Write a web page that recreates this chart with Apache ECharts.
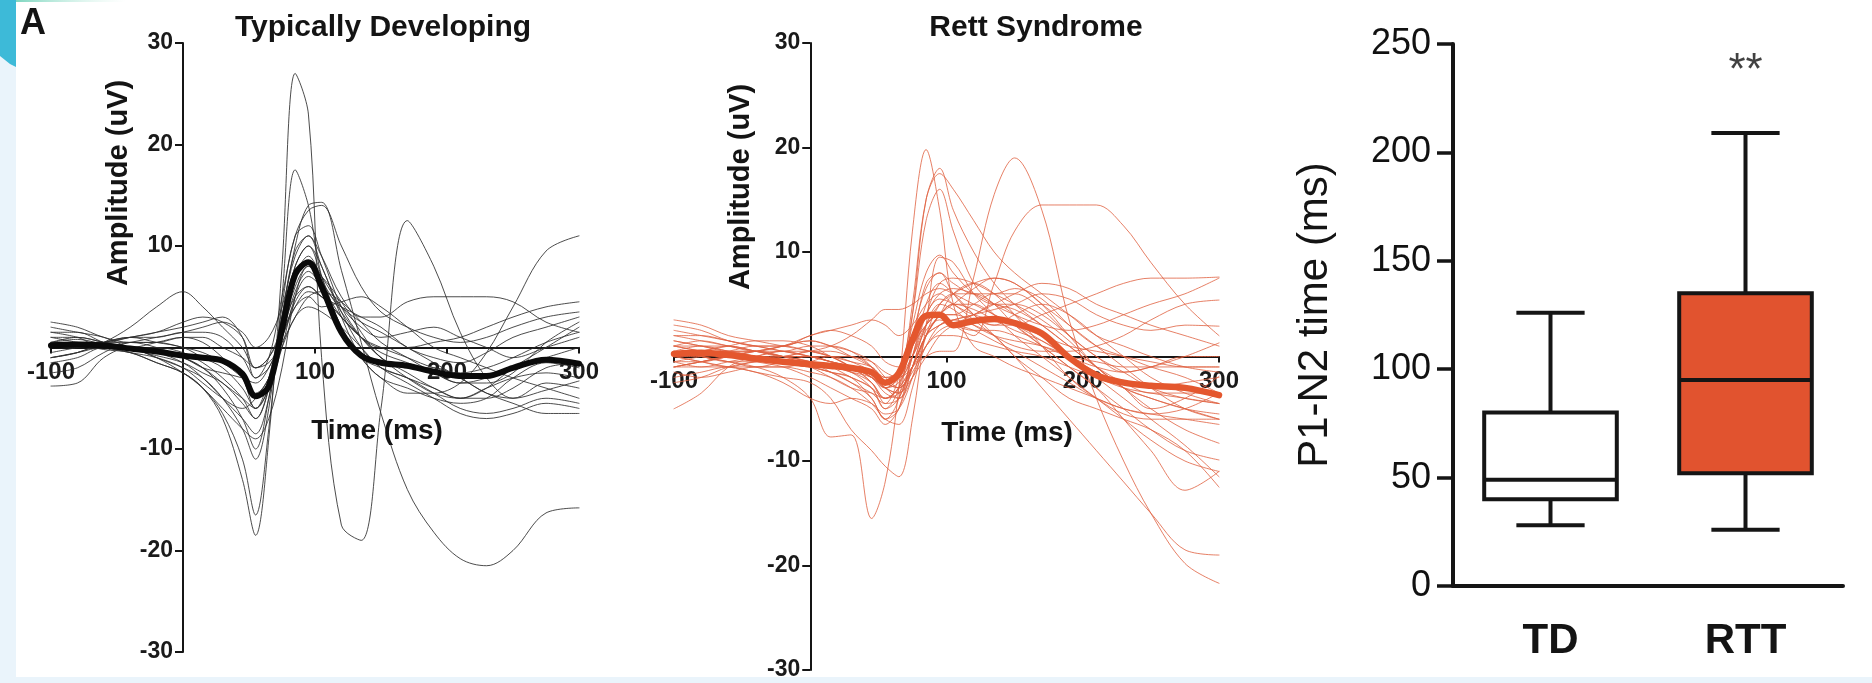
<!DOCTYPE html>
<html><head><meta charset="utf-8">
<script src="https://cdn.jsdelivr.net/npm/echarts@6/dist/echarts.min.js"></script>
<style>html,body{margin:0;padding:0;background:#eaf4fb;overflow:hidden}#c{width:1872px;height:683px}</style>
</head><body><div id="c"></div>
<script>
// ---------- DATA ----------
const times = [-100,-80,-60,-40,-20,0,15,30,45,55,65,75,85,95,105,120,135,150,170,190,210,230,250,275,300];

const tdMean = [0.2,0.3,0.2,-0.1,-0.4,-0.8,-1.0,-1.3,-2.6,-4.8,-3.8,1.8,7.2,8.4,6.0,1.5,-0.8,-1.5,-1.8,-2.4,-2.8,-2.8,-2.0,-1.2,-1.6];
const td01 = [0.5,0.3,-0.2,-0.5,-1.5,-2.5,-4,-7,-13,-18.5,-9,8,27,23,-1,-17.5,-19,-6,12.5,8,1.5,-3,-5,-4.2,-3.3];
const td02 = [-1,-0.5,0,-0.5,-1.5,-2.5,-4,-6.5,-11,-16.5,-8,5,17.5,14,7,2,-1,-2,-3,-4,-5,-4,-3,-2.5,-3];
const td03 = [0.5,0.8,0.3,-0.2,-0.8,-1.5,-2.5,-3.5,-5.5,-7,-4,3,10,14,14.3,7.6,0.5,-6.5,-14,-18.2,-20.8,-21.5,-20,-16.3,-15.8];
const td04 = [-1,-0.5,0.5,1,0.5,0,-1,-2,-4,-6,-3,3,8,10,8,3,-1,-3,-4.5,-4.5,-3.5,-0.5,4,9.5,11];
const td05 = [-1,-0.5,0.5,2,4,5.5,4,2,0,-2,-1,2,5,6,5,3,1,0,-1,-2,-2.5,-2,-1,0.5,1.5];
const td06 = [0.5,0.5,0,0.5,1,1.5,2,2.5,1.5,0,1,4,9,11,9,5,3,3,4.5,5,5,5,4.5,2.5,1.5];
const td07 = [1.5,1.5,0.5,0,-1,-2,-3,-5,-8,-11,-6,4,11,12,9,4,1,-1,-2.5,-4,-5,-5,-4,-2,-1.5];
const td08 = [2,1.5,1,0,-0.5,-1,-2,-4,-7,-10,-5,3,9.5,11,8,3.5,0,-2,-3,-4.5,-6,-6.5,-6,-5,-5.5];
const td09 = [-3.8,-3.5,-1,0,-0.5,-1.5,-3,-5,-7,-8.5,-5,2,8,10,7,2,-1,-3,-4,-5,-5.5,-5,-3,-1.5,-2];
const td10 = [1,1,0.5,0,0,-0.5,-1.5,-3,-5,-7,-4,2,7,9,7,4,2,1,1.5,2,1,0,-1,0,1];
const td11 = [2.5,2,1,0.5,0.5,1,0.5,-1,-3,-6,-4,1,5.5,7.5,6,3,1,0,0,0.5,1,2,3,4,4.5];
const td12 = [-0.5,0,0.5,1,1.5,2,2.5,3,1,-3,-2,1,4.5,6,5,4,3,2,0,-1,-1.5,-0.5,1,2,3];
const td13 = [0,0.5,0.5,1,1.5,2.5,3,2.5,1,-2,-1.5,0.5,3,5,5.5,4.5,2.5,0.5,-1,-2.5,-3.5,-3,-2,-1,0];
const td14 = [1,0.5,0,-0.5,-1,-2,-3.5,-5,-6,-5,-3,0,3,4,3.5,2,0,-2,-3.5,-5,-6.5,-7,-6.5,-5.5,-6];
const td15 = [-1.5,-1,0,0,-0.5,-1,-2,-2.5,-3,-3.5,-2,1,4,5.5,5,3,1,-1,-3,-4.5,-5,-4,-2,0,2];
const td16 = [0.5,1,0.5,0,-1,-2.5,-4,-6,-8,-9,-7,-2,5,8,7,4.5,1.5,-1,-2,-2,-3,-4.5,-5,-3.5,-4];
const td17 = [1.5,1,0,0,0.5,1,1,0,-1,-2,-1,1.5,4,5,4,4.5,5,4,2,0,-1,-2,-3,-4,-5];
const td18 = [0,0,0.5,1,1,1.5,1.5,1,-1,-3,-1,5,11,13.5,14,10,6,3.5,2,1,0.5,1,2,3,3.5];
const td19 = [-2.5,-2,-0.5,0.5,0,-1,-2,-3.5,-5,-6,-4,0,5,7,6,4,2.5,1.5,0,-1.5,-3,-4.5,-5.5,-6.5,-6.5];
const td20 = [0.5,0.5,0.5,0.5,0.5,0,-0.5,-1.5,-3,-4.5,-3,1.5,6,8,6.5,3.5,1,-0.5,-1.5,-2.5,-3.5,-3.5,-2.5,0.5,2.5];
const tdTraces = [td01,td02,td03,td04,td05,td06,td07,td08,td09,td10,td11,td12,td13,td14,td15,td16,td17,td18,td19,td20];

const rttMean = [0.25,0.35,0.15,-0.2,-0.5,-0.75,-0.9,-1.1,-1.5,-2.5,-1.6,1.6,3.9,4.0,3.0,3.4,3.6,3.2,2.2,-0.1,-1.8,-2.5,-2.8,-3.0,-3.7];
const rtt01 = [0.5,0,-0.5,-1,-2,-4,-7.7,-7.5,-15.5,-12,-3,12,19.8,14,5,1,0,-1,-2,-3,-4,-5,-5.5,-6,-6.5];
const rtt02 = [1,0.5,0,0,-0.5,-1,-1.5,-2,-4,-6,-4,4,15,18,14,10,7,5,3,1,-1,-3,-4,-5,-5.5];
const rtt03 = [-1,-0.5,0,0.5,0,-0.5,-1,-2,-3,-5,-3,5,15,17.5,16,13,10,8,6,4,2,1,0,-1,-1.5];
const rtt04 = [0,0.5,1,0.5,0,0,-0.5,-1,-2.5,-4.5,-2,4,13,16,12,7,5,4,3,2.5,3,4,5,6,7.5];
const rtt05 = [2,1.5,1,0.5,0,-0.5,-1,-1.5,-2.5,-4,-3,-1,0,0.5,0.5,7.6,15.5,19,14,3.5,-4,-10,-15,-19.8,-21.7];
const rtt06 = [-1,-1,-0.5,0,0.5,0.5,0,-1,-2,-3,-2,1,3,4,3,2,7,12,14.5,14.5,14.5,12.5,9,5,2];
const rtt07 = [0,0.5,0.5,0,-0.5,-1,-1,-1.5,-3,-5,-4,0,5,7,6,4,2,0,-3,-6,-9,-12,-15,-18.5,-19];
const rtt08 = [-2,-1.5,-1,-1.5,-2,-2.5,-4,-7,-9,-10.5,-11.5,-6,3,9.5,9,6,4,2,0,-2,-4,-6,-8,-10,-11];
const rtt09 = [1,1.5,1,0.5,0.5,1,1,0.5,-1,-3,-2,3,8,9.7,8,6,5,5,4,2,0,-1.5,-3,-4,-4.5];
const rtt10 = [3.5,3,2,1.5,1,0.5,0,-1,-2.5,-4,-3,2,6.5,8,7,6,6,6.5,5.5,3,1,0,-1,-2,-3.5];
const rtt11 = [-5,-3.5,-1,0,0.5,0,-0.5,-1,-2,-3,-4,-1,3,5,6,7,7.5,7,5,2,-1,-3,-5,-7,-8.3];
const rtt12 = [2,2,1.5,1,1,2,2.5,3,3.5,3,2,3,5,6,5,4,3.5,3,1.5,0,-1,-1.5,-1,0,0];
const rtt13 = [0.5,0,-0.5,-0.5,0,0.5,1,2,3.5,4.5,4.5,5,6,6.5,6,5,4,3,2,1,0.5,0,-0.5,-1,-1];
const rtt14 = [-0.5,-1,-1,-0.5,-0.5,-1,-1.5,-2.5,-4,-6,-5,1,7,8,6,4,3,4,5,4,2,0,-2,-3.5,-4.5];
const rtt15 = [1.5,1,0.5,0.5,1,1.5,1,0.5,-0.5,-2,-3,-1,2,4,5,6.5,7.5,7,5,3,1,-1,-3,-5,-6];
const rtt16 = [-1.5,-2,-1.5,-1,-1,-1.5,-2,-3,-4.5,-6,-6.5,-3,2,5,6,6,5,3,1,-1,-3,-5,-7,-9,-9.9];
const rtt17 = [0,-0.5,-1,-1,-0.5,0,0,-0.5,-1.5,-3,-3.5,-1,2,3,3.5,4,4.5,5,6,5.5,4,3,2.5,3,2.9];
const rtt18 = [1,0.5,0,-0.5,-1,-2,-3,-4,-5,-6.5,-5,-1,3,5,4.5,3,2,1.5,1,0,-2,-4,-6,-8.5,-11.5];
const rtt19 = [-1,-0.5,0,0.5,1,1.5,1,0,-1,-2,-1.5,1,3,4,4,5,6,6,4.5,2,0,-1.5,-1,0,1.3];
const rtt20 = [2.5,2,1.5,1,0.5,0,-0.5,-1,-2,-3.5,-4,-2,1,3,3.5,3,2,0,-2,-4,-5,-6,-7,-9,-12.5];
const rtt21 = [0,0.5,1,1.5,1.5,1,0,-1,-2,-3,-2.5,0,4,7,7.5,7,6,5,3.5,1.5,-1,-3,-5,-4,-1.9];
const rtt22 = [-2.5,-2,-1,-0.5,0,0,-0.5,-1,-1.5,-2.5,-3,-1.5,1,2,2,1.5,1,0.5,0,-1,-2,-3,-3.5,-4,-4.5];
const rtt23 = [1,1,0.5,0,-0.5,-1,-1,-1.5,-2,-3,-3.5,-2,0,2,3,4,5,6,7,6.5,5,4,3,2,1];
const rtt24 = [0.5,1,1,0.5,0,-0.5,-1.5,-2.5,-3.5,-4.5,-4,0,4,5.5,5,3.5,2,1,0.5,0.5,1,2,3.5,5,5.4];
const rtt25 = [-0.5,0,0.5,0.5,0,-1,-2,-3,-3.5,-4,-3,-1,2,4,6,7,6,4,1,-2,-4,-5.5,-6,-6,-6];
const rtt26 = [0,0,0.5,1,1,0.5,0,-0.5,-1,-2,-2,0,3,4,4,3.5,3,3,4,5,6,7,7.5,7.5,7.6];
const rtt27 = [1.5,1,0.5,0,0,0.5,0.5,0,-0.5,-1.5,-2,-1,1,2.5,3,2.5,1.5,0.5,-1,-2.5,-4,-5,-5.5,-5,-3.5];
const rtt28 = [-1,-0.5,0,0,-0.5,-1,-1.5,-2,-3,-4,-3.5,-1,2,4,5,5,4,3,1,-1,-3,-6,-9,-12.8,-11];
const rtt29 = [3,2.5,1.5,1,0.5,0,-0.5,-1,-1.5,-2.5,-2,0,2.5,3.5,3,2.5,2.5,2,1,0,-0.5,-1,-1,-1,-1];
const rtt30 = [0,-0.5,-1,-1.5,-2.5,-4,-4.5,-4,-4.5,-5.5,-5,-2,2,4,5,4.5,3.5,2.5,1.5,0,-1.5,-3,-4,-5,-6];
const rtt31 = [-0.5,-0.5,0,0.5,1,2,2.5,2,1,-0.5,-1,1,4,6,6.5,6,5,4.5,3,1,-1,-2.5,-3.5,-3.5,-3.5];
const rtt32 = [0.5,0,-0.5,-1,-1,-0.5,0,0,-1,-2.5,-3,-1,2,3,3.5,4,5,4,2,0,-1.5,-2.5,-3,-2.5,-2];
const rttTraces = [rtt01,rtt02,rtt03,rtt04,rtt05,rtt06,rtt07,rtt08,rtt09,rtt10,rtt11,rtt12,rtt13,rtt14,rtt15,rtt16,rtt17,rtt18,rtt19,rtt20,rtt21,rtt22,rtt23,rtt24,rtt25,rtt26,rtt27,rtt28,rtt29,rtt30,rtt31,rtt32];

// box plot: [min, Q1, median, Q3, max]
const groups = ['TD', 'RTT'];
const boxTD  = [28, 40, 49, 80, 126];
const boxRTT = [26, 52, 95, 135, 209];
const sigLabel = '**';
const sigLevel = 237;

// ERP axis ranges
const timeRange = [-100, 300];
const ampRange = [-30, 30];

// ---------- STYLE / LAYOUT ----------
const FONT = "'Liberation Sans', Arial, Helvetica, sans-serif";
const INK = '#151515';
const erpGrids = [
  { left: 51, top: 43, width: 528, height: 609 },
  { left: 674, top: 43, width: 545, height: 627 }
];

function traceSeries(arr, gi, color, width, z) {
  return {
    type: 'line', xAxisIndex: gi, yAxisIndex: gi,
    data: times.map((t, i) => [t, arr[i]]),
    symbol: 'none', showSymbol: false, smooth: 0.35, silent: true, z: z,
    lineStyle: { color: color, width: width, cap: 'round', join: 'round' },
    itemStyle: { color: color }, emphasis: { disabled: true }
  };
}
// place the axes through the origin (0 ms, 0 uV) using axis offsets
function erpX(gi) {
  const g = erpGrids[gi];
  const off = -g.height * (0 - ampRange[0]) / (ampRange[1] - ampRange[0]);
  return {
    type: 'value', gridIndex: gi, min: timeRange[0], max: timeRange[1], interval: 100,
    position: 'bottom', offset: off,
    axisLine: { show: true, onZero: false, lineStyle: { color: INK, width: 2 } },
    axisTick: { show: true, length: 6, lineStyle: { color: INK, width: 2 } },
    axisLabel: { margin: 13, fontSize: 24, fontWeight: 'bold', color: '#1a1a1a', fontFamily: FONT,
      showMinLabel: true, showMaxLabel: true, formatter: v => (v === 0 ? '' : String(v)) },
    splitLine: { show: false }
  };
}
function erpY(gi) {
  const g = erpGrids[gi];
  const off = -g.width * (0 - timeRange[0]) / (timeRange[1] - timeRange[0]);
  return {
    type: 'value', gridIndex: gi, min: ampRange[0], max: ampRange[1], interval: 10,
    position: 'left', offset: off,
    axisLine: { show: true, onZero: false, lineStyle: { color: INK, width: 2 } },
    axisTick: { show: true, length: 8, lineStyle: { color: INK, width: 2 } },
    axisLabel: { margin: 10, fontSize: 23, fontWeight: 'bold', color: '#1a1a1a', fontFamily: FONT,
      showMinLabel: true, showMaxLabel: true, formatter: v => (v === 0 ? '' : String(v)) },
    splitLine: { show: false }
  };
}
function boxSeries(stats, idx, fill) {
  return {
    type: 'custom', xAxisIndex: 2, yAxisIndex: 2, z: 3, silent: true,
    data: [[idx].concat(stats)],
    encode: { x: 0, y: [1, 2, 3, 4, 5] },
    renderItem: function (params, api) {
      const c = api.value(0);
      const pt = k => api.coord([c, api.value(k)]);
      const xc = pt(1)[0];
      const yMin = pt(1)[1], yQ1 = pt(2)[1], yMed = pt(3)[1], yQ3 = pt(4)[1], yMax = pt(5)[1];
      const band = api.size([1, 0])[0];
      const bw = band * 0.68, cw = band * 0.35;
      const st = { stroke: INK, lineWidth: 4, fill: null };
      return { type: 'group', children: [
        { type: 'line', shape: { x1: xc, y1: yMax, x2: xc, y2: yQ3 }, style: st },
        { type: 'line', shape: { x1: xc, y1: yQ1, x2: xc, y2: yMin }, style: st },
        { type: 'line', shape: { x1: xc - cw / 2, y1: yMax, x2: xc + cw / 2, y2: yMax }, style: st },
        { type: 'line', shape: { x1: xc - cw / 2, y1: yMin, x2: xc + cw / 2, y2: yMin }, style: st },
        { type: 'rect', shape: { x: xc - bw / 2, y: yQ3, width: bw, height: yQ1 - yQ3 }, style: { fill: fill, stroke: INK, lineWidth: 4 } },
        { type: 'line', shape: { x1: xc - bw / 2, y1: yMed, x2: xc + bw / 2, y2: yMed }, style: st }
      ] };
    }
  };
}
function txt(text, x, y, font, rot, align) {
  return {
    type: 'text', x: x, y: y, rotation: rot || 0, z: 10, silent: true,
    style: { text: text, x: 0, y: 0, font: font, fill: '#141414',
      align: align || 'center', verticalAlign: 'middle',
      textAlign: align || 'center', textVerticalAlign: 'middle' }
  };
}

const series = [];
tdTraces.forEach(a => series.push(traceSeries(a, 0, 'rgba(45,45,45,0.85)', 1, 2)));
series.push(traceSeries(tdMean, 0, '#0a0a0a', 6, 5));
rttTraces.forEach(a => series.push(traceSeries(a, 1, 'rgba(224,96,64,0.8)', 1, 2)));
series.push(traceSeries(rttMean, 1, '#e4572e', 6.5, 5));
series.push(boxSeries(boxTD, 0, '#ffffff'));
series.push(boxSeries(boxRTT, 1, '#e1532f'));
series.push({
  type: 'scatter', xAxisIndex: 2, yAxisIndex: 2, silent: true, z: 6,
  data: [[1, sigLevel]], symbolSize: 1, itemStyle: { color: 'rgba(0,0,0,0)' },
  label: { show: true, position: 'inside', formatter: sigLabel, fontSize: 44, color: '#111', fontFamily: FONT }
});

const option = {
  animation: false,
  backgroundColor: 'transparent',
  textStyle: { fontFamily: FONT },
  grid: [
    erpGrids[0], erpGrids[1],
    { left: 1453, top: 44, width: 390, height: 542 }
  ],
  xAxis: [
    erpX(0), erpX(1),
    { type: 'category', gridIndex: 2, data: groups, boundaryGap: true,
      axisLine: { show: true, lineStyle: { color: INK, width: 4 } },
      axisTick: { show: false },
      axisLabel: { margin: 34, fontSize: 42, fontWeight: 'bold', color: '#141414', fontFamily: FONT },
      splitLine: { show: false } }
  ],
  yAxis: [
    erpY(0), erpY(1),
    { type: 'value', gridIndex: 2, min: 0, max: 250, interval: 50,
      axisLine: { show: true, lineStyle: { color: INK, width: 4 } },
      axisTick: { show: true, length: 16, lineStyle: { color: INK, width: 3.5 } },
      axisLabel: { margin: 22, fontSize: 36, color: '#111', fontFamily: FONT, showMinLabel: true, showMaxLabel: true },
      splitLine: { show: false } }
  ],
  graphic: { elements: [
    { type: 'rect', z: -10, silent: true, shape: { x: 16, y: 0, width: 1856, height: 677 }, style: { fill: '#ffffff' } },
    { type: 'polygon', z: -9, silent: true, shape: { points: [[0,0],[16,0],[16,67],[10,64],[5,60],[0,56]] }, style: { fill: '#3dbad8' } },
    { type: 'rect', z: -9, silent: true, shape: { x: 16, y: 0, width: 110, height: 2 },
      style: { fill: new echarts.graphic.LinearGradient(0, 0, 1, 0, [{ offset: 0, color: '#7fd6c0' }, { offset: 1, color: 'rgba(200,240,225,0)' }]) } },
    txt('A', 20, 24, 'bold 36px ' + FONT, 0, 'left'),
    txt('Typically Developing', 383, 28, 'bold 30px ' + FONT),
    txt('Rett Syndrome', 1036, 28, 'bold 30px ' + FONT),
    txt('Amplitude (uV)', 119, 183, 'bold 29px ' + FONT, Math.PI / 2),
    txt('Amplitude (uV)', 741, 187, 'bold 29px ' + FONT, Math.PI / 2),
    txt('Time (ms)', 377, 431, 'bold 28px ' + FONT),
    txt('Time (ms)', 1007, 433, 'bold 28px ' + FONT),
    txt('P1-N2 time (ms)', 1315, 315, '42px ' + FONT, Math.PI / 2)
  ] },
  series: series
};

const chart = echarts.init(document.getElementById('c'), null, { renderer: 'canvas', width: 1872, height: 683 });
chart.setOption(option);
</script>
</body></html>
